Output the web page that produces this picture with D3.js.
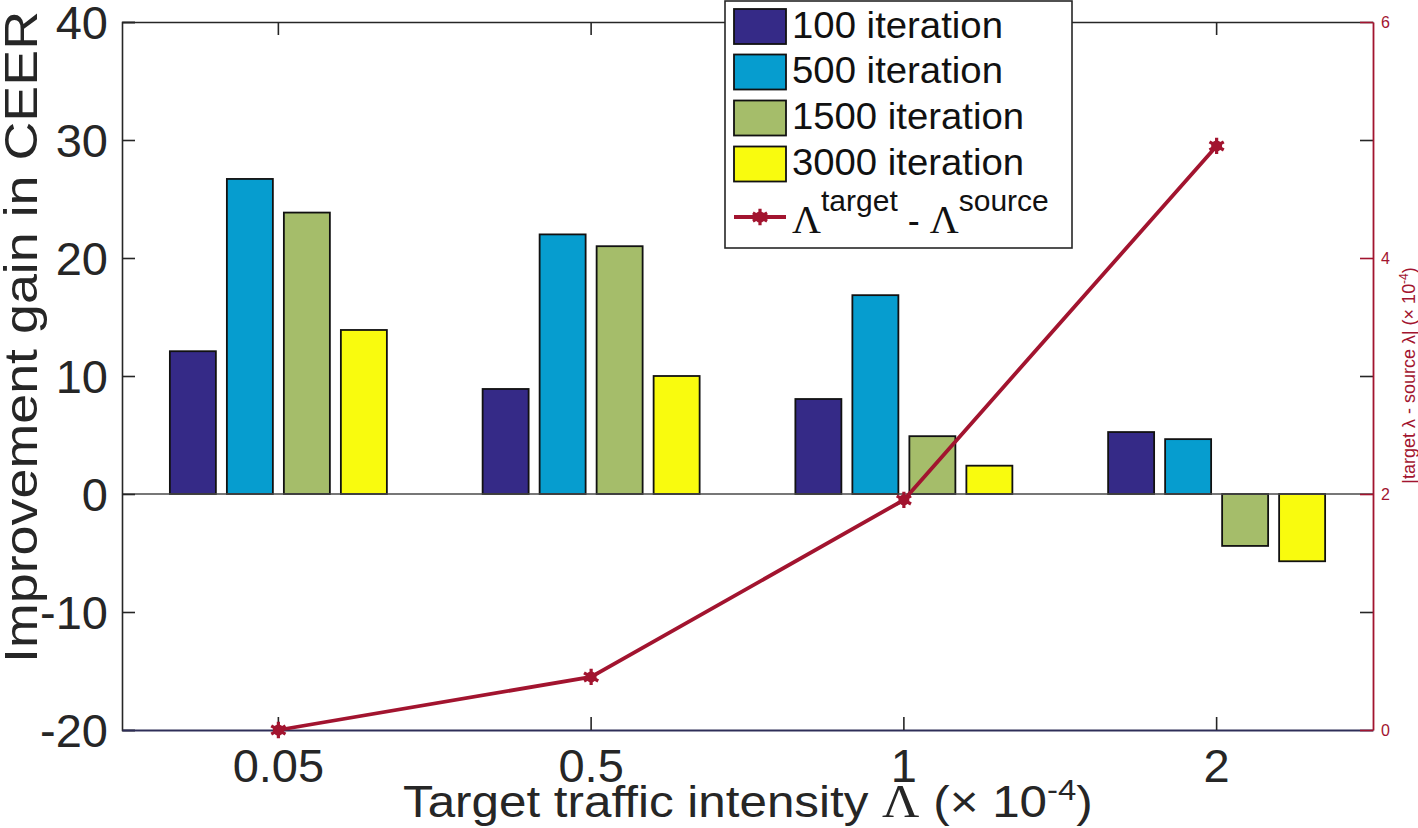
<!DOCTYPE html>
<html>
<head>
<meta charset="utf-8">
<script src="https://cdn.jsdelivr.net/npm/d3@7"></script>
<style>
  html, body { margin: 0; padding: 0; background: #fff; }
  svg { display: block; }
  text { font-family: "Liberation Sans", Arial, Helvetica, sans-serif; }
</style>
</head>
<body>
<svg id="chart" width="1418" height="828"></svg>
<script>
// ---- data ----
const categories = ["0.05", "0.5", "1", "2"];
const seriesNames = ["100 iteration", "500 iteration", "1500 iteration", "3000 iteration"];
const seriesColors = ["#352a87", "#069dcf", "#a5bd6a", "#f9fb0e"];
const gain100 = [12.1, 8.9, 8.05, 5.25];
const gain500 = [26.7, 22.0, 16.85, 4.65];
const gain1500 = [23.85, 21.0, 4.9, -4.4];
const gain3000 = [13.9, 10.0, 2.4, -5.7];
const lambdaDiff = [0, 0.45, 1.95, 4.95];
const leftTicks = [-20, -10, 0, 10, 20, 30, 40];
const rightTicks = [0, 2, 4, 6];
const lineColor = "#a2142f";

const seriesValues = [gain100, gain500, gain1500, gain3000];

const svg = d3.select("#chart");
const L = 122, R = 1373, T = 22, B = 730;

const x = d3.scaleBand().domain(categories).range([L, R]).paddingInner(0).paddingOuter(0);
const xs = d3.scaleBand().domain(d3.range(seriesNames.length)).range([-114, 114])
  .paddingInner(0.193).paddingOuter(0.0965);
const y = d3.scaleLinear().domain([-20, 40]).range([B, T]);
const y2 = d3.scaleLinear().domain([0, 6]).range([B, T]);
const cx = c => x(c) + x.bandwidth() / 2;
const fmt = v => String(v); // plain hyphen-minus like the reference

// bars
const barData = [];
categories.forEach((c, i) => seriesValues.forEach((vals, s) => barData.push({c, s, v: vals[i]})));
svg.append("g").selectAll("rect").data(barData).join("rect")
  .attr("x", d => cx(d.c) + xs(d.s))
  .attr("width", xs.bandwidth())
  .attr("y", d => y(Math.max(0, d.v)))
  .attr("height", d => Math.abs(y(d.v) - y(0)))
  .attr("fill", d => seriesColors[d.s])
  .attr("stroke", "#111")
  .attr("stroke-width", 1.8);

// zero baseline
svg.append("line").attr("x1", L).attr("x2", R).attr("y1", y(0)).attr("y2", y(0))
  .attr("stroke", "#4a4a4a").attr("stroke-width", 1.6);

// left axis
const axL = svg.append("g").attr("transform", `translate(${L},0)`)
  .call(d3.axisLeft(y).tickValues(leftTicks).tickSize(-13).tickPadding(14).tickFormat(fmt));
axL.select(".domain").attr("stroke", "#262626").attr("stroke-width", 1.6);
axL.selectAll(".tick line").attr("stroke", "#262626").attr("stroke-width", 1.6);
axL.selectAll(".tick text").attr("font-size", 47).attr("fill", "#262626")
  .attr("font-family", "'Liberation Sans', Arial, sans-serif")
  .attr("x", 108 - L).attr("dy", "0.36em");

// mirrored left ticks on right side (black)
const axLm = svg.append("g").attr("transform", `translate(${R},0)`)
  .call(d3.axisRight(y).tickValues(leftTicks.filter(v => v % 20 !== 0)).tickSize(-13).tickFormat(""));
axLm.select(".domain").remove();
axLm.selectAll(".tick line").attr("stroke", "#262626").attr("stroke-width", 1.6);

// bottom axis
const axB = svg.append("g").attr("transform", `translate(0,${B})`)
  .call(d3.axisBottom(x).tickSize(-13).tickPadding(0).tickSizeOuter(0));
axB.select(".domain").attr("stroke", "#2e2e58").attr("stroke-width", 1.8);
axB.selectAll(".tick line").attr("stroke", "#262626").attr("stroke-width", 1.6);
axB.selectAll(".tick text").attr("font-size", 47).attr("fill", "#262626")
  .attr("font-family", "'Liberation Sans', Arial, sans-serif")
  .attr("y", 52).attr("dy", 0);

// top axis
const axT = svg.append("g").attr("transform", `translate(0,${T})`)
  .call(d3.axisTop(x).tickSize(-13).tickFormat("").tickSizeOuter(0));
axT.select(".domain").attr("stroke", "#262626").attr("stroke-width", 1.6);
axT.selectAll(".tick line").attr("stroke", "#262626").attr("stroke-width", 1.6);

// right axis (red)
const axR = svg.append("g").attr("transform", `translate(${R},0)`)
  .call(d3.axisRight(y2).tickValues(rightTicks).tickSize(-13).tickPadding(8).tickSizeOuter(0).tickFormat(fmt));
axR.select(".domain").attr("stroke", lineColor).attr("stroke-width", 1.8);
axR.selectAll(".tick line").attr("stroke", lineColor).attr("stroke-width", 1.6);
axR.selectAll(".tick text").attr("font-size", 16).attr("fill", lineColor)
  .attr("x", 8).attr("dy", "0.36em");

// line series
const lineData = categories.map((c, i) => ({c, v: lambdaDiff[i]}));
svg.append("path").datum(lineData)
  .attr("d", d3.line().x(d => cx(d.c)).y(d => y2(d.v)))
  .attr("fill", "none").attr("stroke", lineColor).attr("stroke-width", 3.8);
const star = d3.symbol().type(d3.symbolAsterisk).size(190);
const mk = svg.append("g").selectAll("g").data(lineData).join("g")
  .attr("transform", d => `translate(${cx(d.c)},${y2(d.v)})`);
mk.append("path").attr("d", star).attr("fill", "none").attr("stroke", lineColor).attr("stroke-width", 3.2);
mk.append("circle").attr("r", 5.5).attr("fill", lineColor);

// y axis title
svg.append("text")
  .attr("transform", "translate(37,337) rotate(-90)")
  .attr("text-anchor", "middle")
  .attr("font-size", 47).attr("fill", "#262626")
  .attr("textLength", 652).attr("lengthAdjust", "spacingAndGlyphs")
  .text("Improvement gain in CEER");

// x axis title
const xt = svg.append("text").attr("font-size", 45).attr("fill", "#262626");
xt.append("tspan").text("Target traffic intensity ");
xt.append("tspan").attr("font-family", "'Liberation Serif', 'Times New Roman', serif").attr("font-size", 47).text("Λ");
xt.append("tspan").text(" (× 10");
xt.append("tspan").attr("font-size", 30).attr("dy", -17).text("-4");
xt.append("tspan").attr("dy", 17).text(")");
{
  const bb = xt.node().getBBox();
  const s = 690 / bb.width;
  xt.attr("transform", `translate(403,817) scale(${s},1)`);
}

// right axis title
svg.append("text")
  .attr("transform", "translate(1415,375.5) rotate(-90)")
  .attr("text-anchor", "middle")
  .attr("font-size", 18).attr("fill", lineColor)
  .call(t => {
    t.append("tspan").text("|target λ - source λ| (× 10");
    t.append("tspan").attr("font-size", 12).attr("dy", -7).text("-4");
    t.append("tspan").attr("dy", 7).text(")");
  });

// legend
const lg = svg.append("g");
lg.append("rect").attr("x", 725).attr("y", 1).attr("width", 347).attr("height", 247)
  .attr("fill", "#fff").attr("stroke", "#262626").attr("stroke-width", 1.6);
const rowY = [26.5, 72, 118, 164];
const legendWidths = [211, 211, 232, 232];
seriesNames.forEach((n, i) => {
  lg.append("rect").attr("x", 734).attr("y", rowY[i] - 17.5).attr("width", 52).attr("height", 35)
    .attr("fill", seriesColors[i]).attr("stroke", "#111").attr("stroke-width", 1.8);
  lg.append("text").attr("x", 792).attr("y", rowY[i] + 11).attr("font-size", 36).attr("fill", "#111")
    .attr("textLength", legendWidths[i]).attr("lengthAdjust", "spacingAndGlyphs").text(n);
});
lg.append("line").attr("x1", 734).attr("x2", 786).attr("y1", 217).attr("y2", 217)
  .attr("stroke", lineColor).attr("stroke-width", 3.8);
const lgm = lg.append("g").attr("transform", "translate(760,217)");
lgm.append("path").attr("d", star).attr("fill", "none").attr("stroke", lineColor).attr("stroke-width", 3.2);
lgm.append("circle").attr("r", 5.5).attr("fill", lineColor);
const lt = lg.append("text").attr("x", 792).attr("y", 233).attr("fill", "#111").attr("font-size", 36);
lt.append("tspan").attr("font-family", "'Liberation Serif', 'Times New Roman', serif").attr("font-size", 40).text("Λ");
lt.append("tspan").attr("font-size", 30).attr("dy", -22).text("target");
lt.append("tspan").attr("dy", 22).text(" - ");
lt.append("tspan").attr("font-family", "'Liberation Serif', 'Times New Roman', serif").attr("font-size", 40).text("Λ");
lt.append("tspan").attr("font-size", 30).attr("dy", -22).text("source");
</script>
</body>
</html>
